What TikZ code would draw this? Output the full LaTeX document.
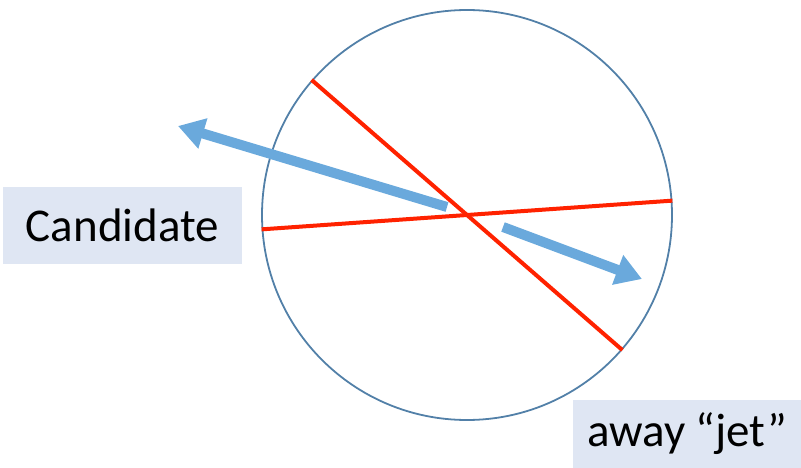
\documentclass[tikz,border=0pt]{standalone}
\usepackage{fontspec}
\setmainfont{Carlito}
\usetikzlibrary{positioning, arrows.meta}
\definecolor{rimblue}{HTML}{5280A8}
\definecolor{axisred}{HTML}{FF2200}
\definecolor{jetblue}{HTML}{6AA9DC}
\definecolor{tagfill}{HTML}{DFE6F3}
\tikzset{
  eventcircle/.style={
    circle, draw=rimblue, line width=1.8pt, minimum size=410pt, inner sep=0pt
  },
  axisline/.style={draw=axisred, line width=4pt},
  jetarrow/.style={-{Triangle[length=26pt, width=30pt]}, line width=10pt, draw=jetblue},
  tagbox/.style={
    fill=tagfill, inner sep=0pt, font=\fontsize{47}{52}\selectfont
  }
}
\begin{document}
\begin{tikzpicture}[x=1pt, y=-1pt]
  \useasboundingbox (0,0) rectangle (801,468);
  \node[eventcircle] (event) at (467,215) {};

  \draw[axisline] (event.139) -- (event.-41);
  \draw[axisline] (event.184.7) -- (event.4.8);

  \coordinate (candtail) at (447,207);
  \coordinate (candtip)  at (178,126);
  \coordinate (awaytail) at (503,227);
  \coordinate (awaytip)  at (642,279);
  \draw[jetarrow] (candtail) -- (candtip);
  \draw[jetarrow] (awaytail) -- (awaytip);

  \node[tagbox, minimum width=239pt, minimum height=77pt] (candidate) at (122.5,225.5) {Candidate};
  \node[tagbox, minimum width=228pt, minimum height=68pt] (away) at (687,434) {away “jet”};
\end{tikzpicture}
\end{document}
